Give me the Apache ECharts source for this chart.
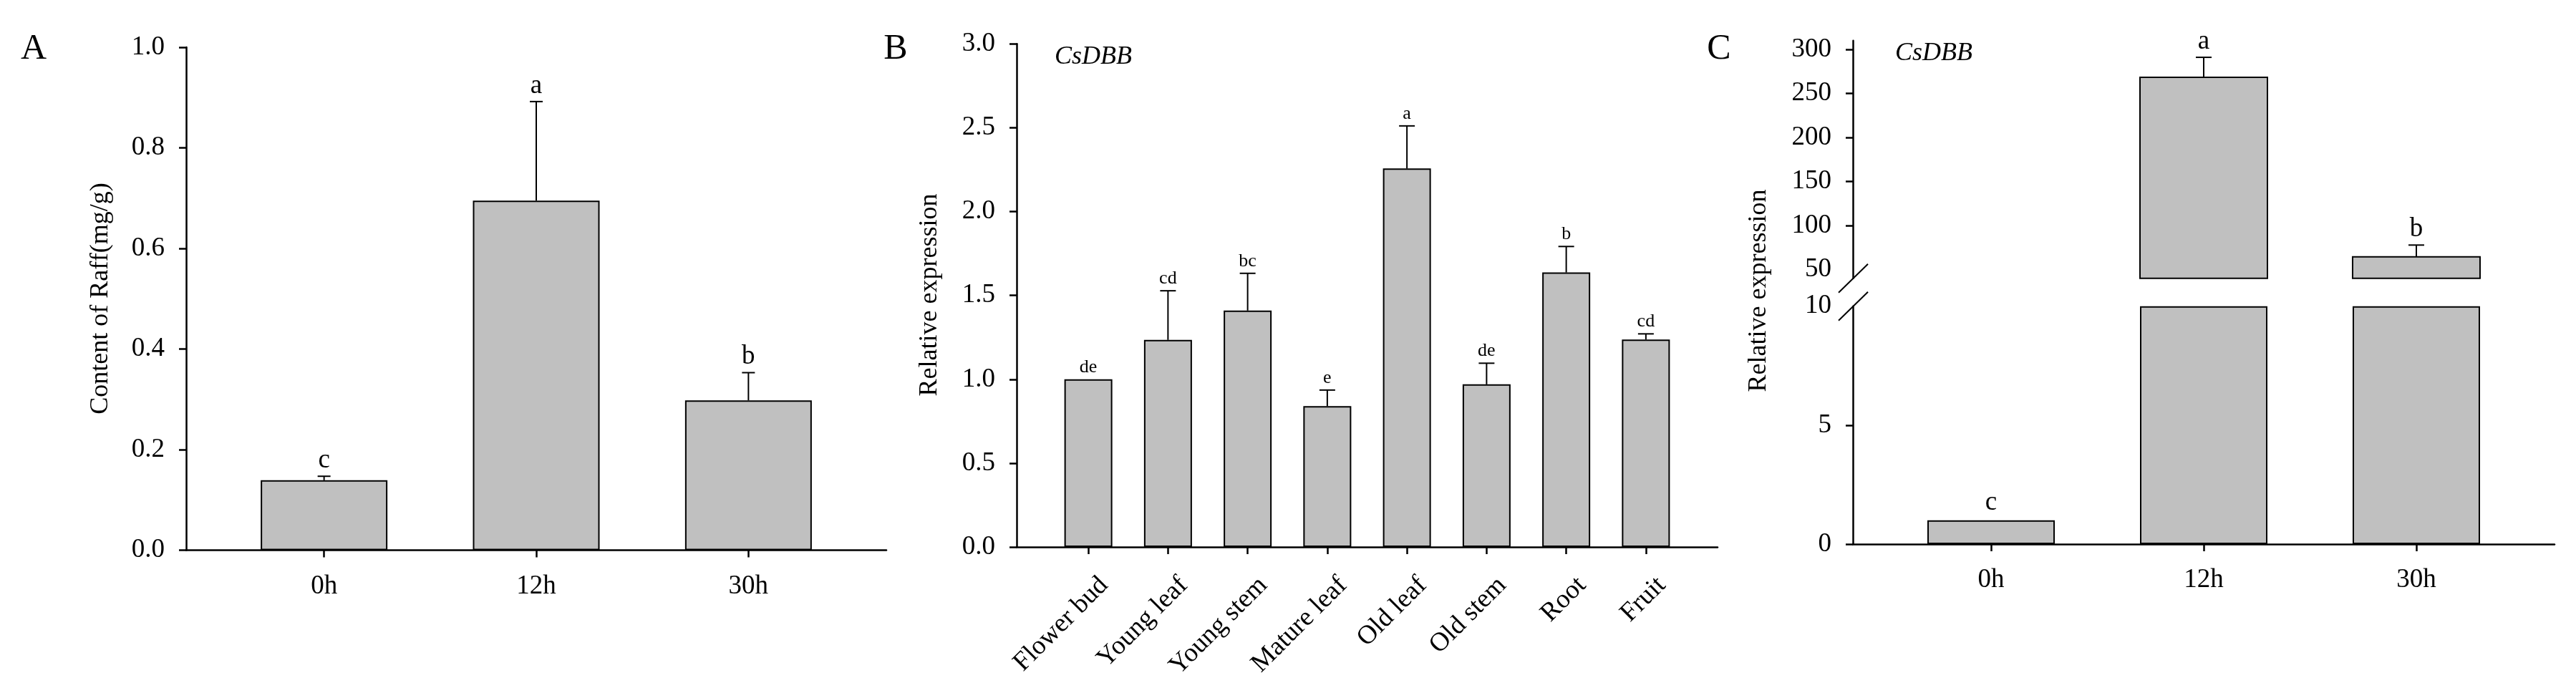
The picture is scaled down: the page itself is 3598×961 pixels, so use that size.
<!DOCTYPE html>
<html>
<head>
<meta charset="utf-8">
<script src="https://cdn.jsdelivr.net/npm/echarts@6/dist/echarts.min.js"></script>
<style>
  html, body { margin: 0; padding: 0; background: #fff; }
  #chart { width: 3598px; height: 961px; }
</style>
</head>
<body>
<div id="chart"></div>
<script>
// ---------- Data ----------
// Panel A: raffinose content
const timeCategories = ['0h', '12h', '30h'];
const raffMean = [0.139, 0.695, 0.298];
const raffSE = [0.008, 0.197, 0.055];
const raffLetters = ['c', 'a', 'b'];
const raffTicks = [0, 0.2, 0.4, 0.6, 0.8, 1.0];

// Panel B: CsDBB expression in tissues
const tissueCategories = ['Flower bud', 'Young leaf', 'Young stem', 'Mature leaf', 'Old leaf', 'Old stem', 'Root', 'Fruit'];
const tissueMean = [1.00, 1.235, 1.41, 0.84, 2.257, 0.97, 1.637, 1.237];
const tissueSE = [0.0, 0.293, 0.222, 0.096, 0.254, 0.126, 0.155, 0.034];
const tissueLetters = ['de', 'cd', 'bc', 'e', 'a', 'de', 'b', 'cd'];
const tissueTicks = [0, 0.5, 1.0, 1.5, 2.0, 2.5, 3.0];

// Panel C: CsDBB expression over time (broken axis)
const csdbbMean = [1.0, 268.2, 64.4];
const csdbbSE = [0.0, 22.8, 13.4];
const csdbbLetters = ['c', 'a', 'b'];
const cUpperLabels = [50, 100, 150, 200, 250, 300];
const cUpperTicks = [100, 150, 200, 250, 300];
const cLowerLabels = [0, 5, 10];
const cLowerTicks = [0, 5];
const cUpperRange = [40, 310];
const cLowerRange = [0, 10];

// ---------- Styling ----------
const FONT = "'Liberation Serif', 'Times New Roman', serif";
const BLACK = '#000';
const BAR_FILL = '#c0c0c0';
const tickFont = { fontFamily: FONT, fontSize: 37, color: BLACK };

function catIdx(n) { return Array.from({ length: n }, (_, i) => i); }

function xAxisDef(grid, cats, min, max, extra) {
  return Object.assign({
    gridIndex: grid, type: 'value', min: min, max: max,
    axisLine: { show: true, onZero: false, lineStyle: { color: BLACK, width: 2.5 } },
    axisTick: { show: true, customValues: catIdx(cats.length), length: 10, lineStyle: { color: BLACK, width: 2.5 } },
    axisLabel: Object.assign({ customValues: catIdx(cats.length), margin: 32,
      formatter: v => cats[Math.round(v)] }, tickFont),
    splitLine: { show: false }
  }, extra || {});
}

function yAxisDef(grid, min, max, labels, ticks, fmt) {
  return {
    gridIndex: grid, type: 'value', min: min, max: max,
    axisLine: { show: true, onZero: false, lineStyle: { color: BLACK, width: 2.5 } },
    axisTick: { show: true, customValues: ticks, length: 10, lineStyle: { color: BLACK, width: 2.5 } },
    axisLabel: Object.assign({ customValues: labels, margin: 30, formatter: fmt }, tickFont),
    splitLine: { show: false }
  };
}

function barSeries(xi, yi, data, width) {
  return {
    type: 'bar', xAxisIndex: xi, yAxisIndex: yi, data: data, barWidth: width, clip: false,
    itemStyle: { color: BAR_FILL, borderColor: BLACK, borderWidth: 2 },
    emphasis: { disabled: true }, silent: true
  };
}

// bars of the upper (broken) segment: drawn from the break value up to the mean
function brokenBarSeries(xi, yi, mean, idxList, base, width) {
  return {
    type: 'custom', xAxisIndex: xi, yAxisIndex: yi, silent: true, z: 2,
    data: idxList.map(i => [i, mean[i]]),
    renderItem: function (params, api) {
      const x = api.value(0);
      const top = api.coord([x, api.value(1)]);
      const bot = api.coord([x, base]);
      return { type: 'rect',
        shape: { x: top[0] - width / 2, y: top[1], width: width, height: bot[1] - top[1] },
        style: { fill: BAR_FILL, stroke: BLACK, lineWidth: 2 } };
    }
  };
}

function errorSeries(xi, yi, mean, se, letters, idxList, capW, gap, fontSize) {
  return {
    type: 'custom', xAxisIndex: xi, yAxisIndex: yi, silent: true, z: 5,
    data: idxList.map(i => [i, mean[i], mean[i] + se[i], i]),
    renderItem: function (params, api) {
      const x = api.value(0);
      const base = api.coord([x, api.value(1)]);
      const top = api.coord([x, api.value(2)]);
      const children = [];
      if (base[1] - top[1] > 1) {
        children.push({ type: 'line', shape: { x1: base[0], y1: base[1], x2: top[0], y2: top[1] },
          style: { stroke: BLACK, lineWidth: 2 } });
        children.push({ type: 'line', shape: { x1: top[0] - capW / 2, y1: top[1], x2: top[0] + capW / 2, y2: top[1] },
          style: { stroke: BLACK, lineWidth: 2 } });
      }
      children.push({ type: 'text', style: { text: letters[api.value(3)], x: top[0], y: top[1] - gap,
        align: 'center', verticalAlign: 'middle', textAlign: 'center', textVerticalAlign: 'middle',
        fontFamily: FONT, fontSize: fontSize, fill: BLACK } });
      return { type: 'group', children: children };
    }
  };
}

const chart = echarts.init(document.getElementById('chart'), null, { renderer: 'canvas' });

const upperIdx = catIdx(csdbbMean.length).filter(i => csdbbMean[i] > cUpperRange[0]);
const lowerIdx = catIdx(csdbbMean.length).filter(i => csdbbMean[i] <= cLowerRange[1]);

const option = {
  backgroundColor: '#fff',
  animation: false,
  grid: [
    { left: 260, top: 66, width: 978, height: 702.5, outerBoundsMode: 'none' },
    { left: 1420, top: 61.3, width: 979, height: 702.8, outerBoundsMode: 'none' },
    { left: 2588, top: 56.7, width: 980, height: 332.1, outerBoundsMode: 'none' },
    { left: 2588, top: 427.7, width: 980, height: 332.3, outerBoundsMode: 'none' }
  ],
  xAxis: [
    xAxisDef(0, timeCategories, -0.65, 2.65),
    xAxisDef(1, tissueCategories, -0.9, 7.9),
    xAxisDef(2, timeCategories, -0.65, 2.65, { show: false }),
    xAxisDef(3, timeCategories, -0.65, 2.65)
  ],
  yAxis: [
    yAxisDef(0, 0, 1, raffTicks, raffTicks, v => v.toFixed(1)),
    yAxisDef(1, 0, 3, tissueTicks, tissueTicks, v => v.toFixed(1)),
    yAxisDef(2, cUpperRange[0], cUpperRange[1], cUpperLabels, cUpperTicks, v => String(Math.round(v))),
    yAxisDef(3, cLowerRange[0], cLowerRange[1], cLowerLabels, cLowerTicks, v => String(Math.round(v)))
  ],
  series: [
    barSeries(0, 0, raffMean.map((v, i) => [i, v]), 177),
    errorSeries(0, 0, raffMean, raffSE, raffLetters, catIdx(3), 18, 22, 37),

    barSeries(1, 1, tissueMean.map((v, i) => [i, v]), 67),
    errorSeries(1, 1, tissueMean, tissueSE, tissueLetters, catIdx(8), 22, 17, 26),

    // Panel C upper segment (above the axis break)
    brokenBarSeries(2, 2, csdbbMean, upperIdx, cUpperRange[0], 178),
    errorSeries(2, 2, csdbbMean, csdbbSE, csdbbLetters, upperIdx, 22, 22, 37),

    // Panel C lower segment: bars capped at the break
    barSeries(3, 3, csdbbMean.map((v, i) => [i, Math.min(v, cLowerRange[1])]), 178),
    errorSeries(3, 3, csdbbMean, csdbbSE, csdbbLetters, lowerIdx, 22, 24, 37)
  ]
};

// rotated tissue labels
Object.assign(option.xAxis[1].axisLabel, { rotate: 45, margin: 26, verticalAlign: 'top', lineHeight: 62 });

chart.setOption(option);

// ---------- Annotations ----------
const titleFont = { fontFamily: FONT, fontSize: 36, fill: BLACK, align: 'center', verticalAlign: 'middle' };
const panelFont = { fontFamily: FONT, fontSize: 50, fill: BLACK, align: 'center', verticalAlign: 'middle' };
const geneFont = { fontFamily: FONT, fontSize: 36, fontStyle: 'italic', fill: BLACK, align: 'left', verticalAlign: 'middle' };

const breakTop = chart.convertToPixel({ gridIndex: 2 }, [-0.65, cUpperRange[0]]);
const breakBot = chart.convertToPixel({ gridIndex: 3 }, [-0.65, cLowerRange[1]]);
function slash(p) {
  return { type: 'line', shape: { x1: p[0] - 20, y1: p[1] + 20, x2: p[0] + 21, y2: p[1] - 20 },
    style: { stroke: BLACK, lineWidth: 2 }, z: 10 };
}

chart.setOption({
  graphic: [
    { type: 'text', x: 47, y: 69, style: Object.assign({ text: 'A' }, panelFont) },
    { type: 'text', x: 1251, y: 69, style: Object.assign({ text: 'B' }, panelFont) },
    { type: 'text', x: 2401, y: 69, style: Object.assign({ text: 'C' }, panelFont) },
    { type: 'text', x: 141, y: 417, rotation: Math.PI / 2, style: Object.assign({ text: 'Content of Raff(mg/g)' }, titleFont) },
    { type: 'text', x: 1299, y: 412, rotation: Math.PI / 2, style: Object.assign({ text: 'Relative expression' }, titleFont) },
    { type: 'text', x: 2457, y: 406, rotation: Math.PI / 2, style: Object.assign({ text: 'Relative expression' }, titleFont) },
    { type: 'text', x: 1473, y: 80, style: Object.assign({ text: 'CsDBB' }, geneFont) },
    { type: 'text', x: 2647, y: 75, style: Object.assign({ text: 'CsDBB' }, geneFont) },
    slash(breakTop),
    slash(breakBot)
  ]
});
</script>
</body>
</html>
